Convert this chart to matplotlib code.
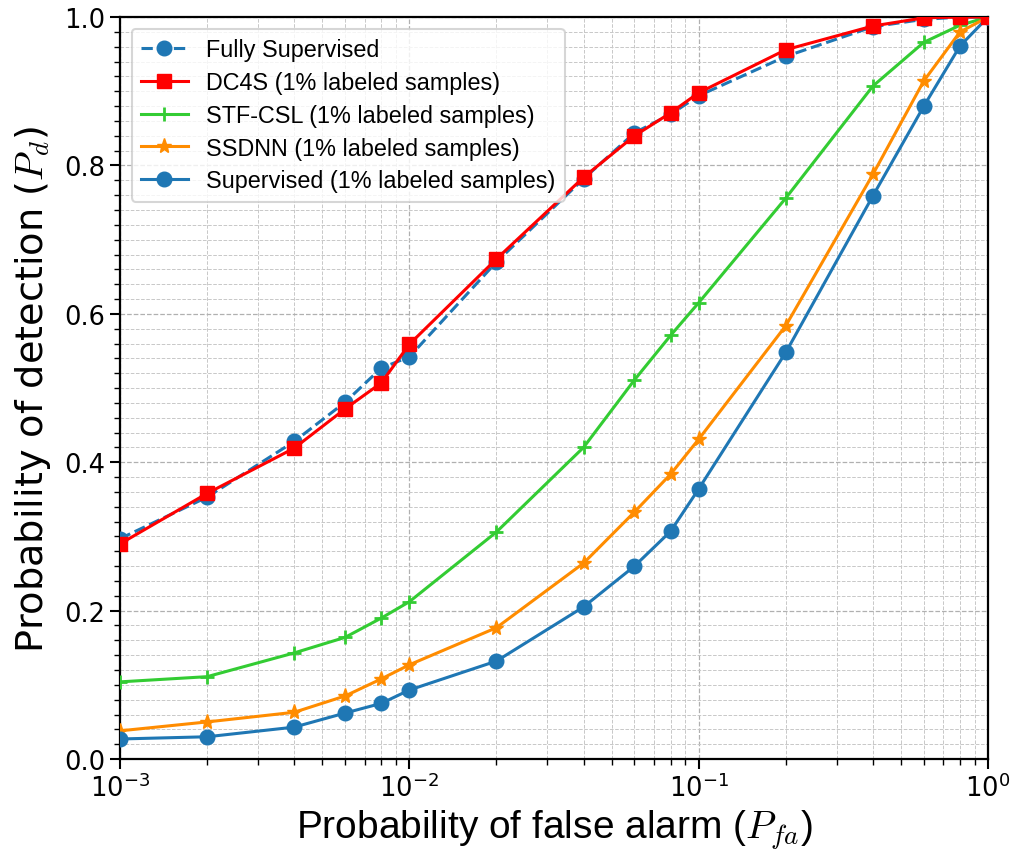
import matplotlib
matplotlib.use("Agg")
import matplotlib.pyplot as plt
from matplotlib.ticker import MultipleLocator, LogLocator, NullFormatter

plt.rcParams['font.family'] = ['DejaVu Sans']
plt.rcParams['mathtext.fontset'] = 'cm'

pfa = [0.001, 0.002, 0.004, 0.006, 0.008, 0.01, 0.02, 0.04, 0.06, 0.08,
       0.1, 0.2, 0.4, 0.6, 0.8, 1.0]

fully_supervised = [0.297, 0.353, 0.428, 0.481, 0.527, 0.542, 0.670, 0.782,
                    0.844, 0.869, 0.894, 0.947, 0.987, 0.997, 1.0, 1.0]
dc4s = [0.290, 0.358, 0.419, 0.472, 0.507, 0.559, 0.674, 0.784,
        0.840, 0.871, 0.898, 0.956, 0.988, 0.999, 1.0, 1.0]
stf_csl = [0.104, 0.111, 0.143, 0.164, 0.190, 0.212, 0.306, 0.420,
           0.511, 0.571, 0.615, 0.756, 0.907, 0.966, 0.989, 1.0]
ssdnn = [0.038, 0.050, 0.063, 0.085, 0.108, 0.127, 0.177, 0.264,
         0.333, 0.384, 0.431, 0.584, 0.788, 0.914, 0.980, 1.0]
supervised = [0.027, 0.030, 0.043, 0.062, 0.075, 0.093, 0.132, 0.205,
              0.260, 0.307, 0.364, 0.548, 0.759, 0.880, 0.961, 1.0]

labels = ['Fully Supervised',
          'DC4S (1% labeled samples)',
          'STF-CSL (1% labeled samples)',
          'SSDNN (1% labeled samples)',
          'Supervised (1% labeled samples)']

fig = plt.figure(figsize=(10.17, 8.62), dpi=100)
ax = fig.add_axes([0.118, 0.1183, 0.8535, 0.8607])

ax.plot(pfa, fully_supervised, '--o', color='#1f77b4', lw=2.2, ms=10.5, label=labels[0], zorder=3)
ax.plot(pfa, dc4s, '-s', color='red', lw=2.2, ms=10, label=labels[1], zorder=4)
ax.plot(pfa, stf_csl, '-+', color='#33cc33', lw=2.2, ms=10, mew=2, label=labels[2], zorder=3)
ax.plot(pfa, ssdnn, '-*', color='darkorange', lw=2.2, ms=11, label=labels[3], zorder=3)
ax.plot(pfa, supervised, '-o', color='#1f77b4', lw=2.2, ms=10.5, label=labels[4], zorder=3)

ax.set_xscale('log')
ax.set_xlim(1e-3, 1.0)
ax.set_ylim(0, 1.0)
ax.yaxis.set_major_locator(MultipleLocator(0.2))
ax.yaxis.set_minor_locator(MultipleLocator(0.02))
ax.xaxis.set_minor_locator(LogLocator(base=10, subs=range(2, 10), numticks=20))
ax.xaxis.set_minor_formatter(NullFormatter())

ax.grid(True, which='major', ls='--', color='#b0b0b0', lw=0.9)
ax.grid(True, which='minor', ls='--', color='#c8c8c8', lw=0.7)

ax.tick_params(which='major', length=7, width=1.5, labelsize=18.5, direction='out')
ax.tick_params(which='minor', length=4.5, width=1.0)
for sp in ax.spines.values():
    sp.set_linewidth(1.6)

ax.set_xlabel(r'Probability of false alarm ($P_{fa}$)', fontsize=28,
              family='Liberation Sans', labelpad=4)
ax.set_ylabel(r'Probability of detection ($P_d$)', fontsize=27.5,
              family='DejaVu Sans', labelpad=8)

leg = ax.legend(loc='upper left', prop={'family': 'Liberation Sans', 'size': 16.8},
                framealpha=0.8, fancybox=True, borderpad=0.4,
                handlelength=2.0, labelspacing=0.42)
leg.get_frame().set_linewidth(1.5)

fig.savefig('out.png', dpi=100)
